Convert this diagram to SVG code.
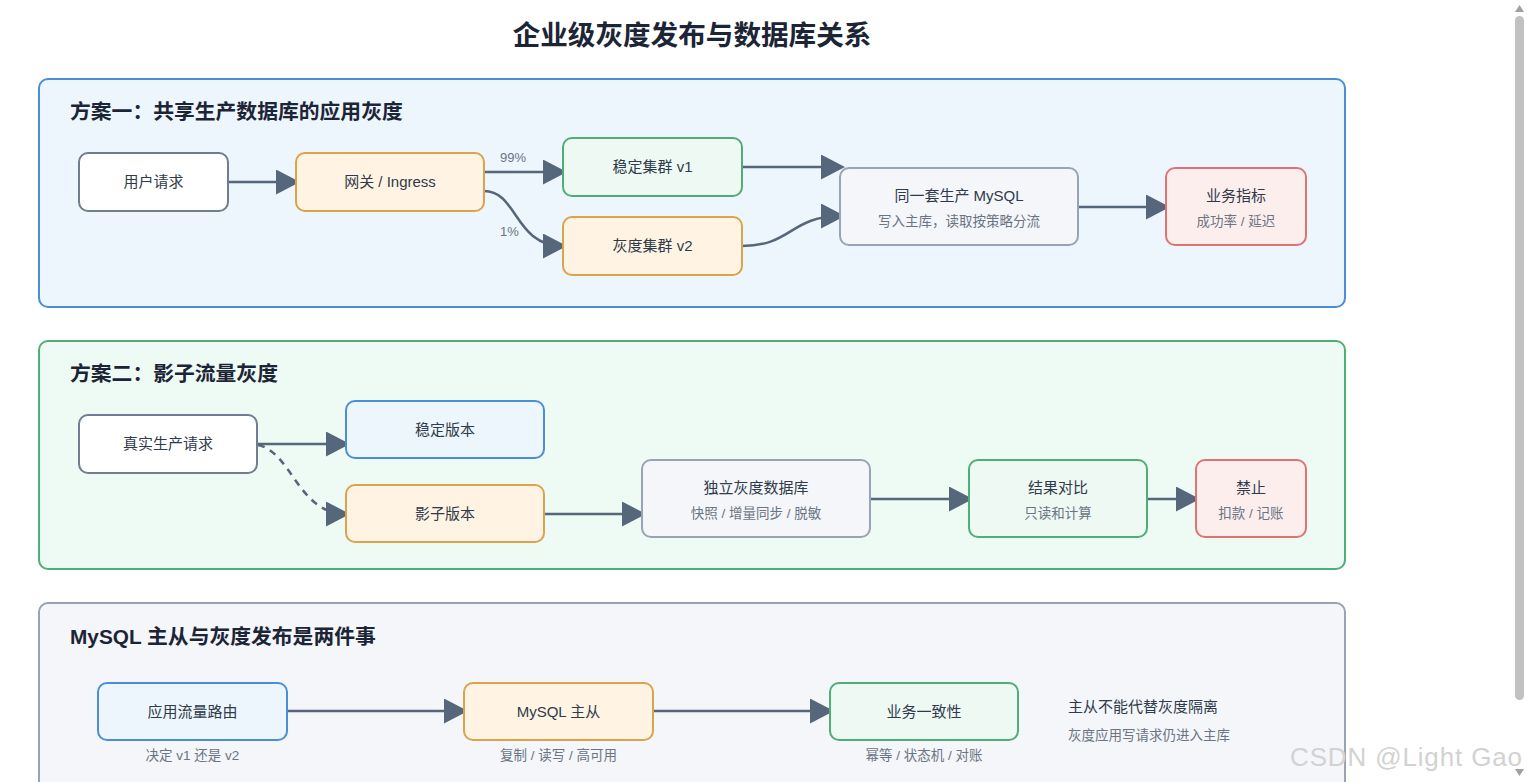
<svg xmlns="http://www.w3.org/2000/svg" width="1527" height="782" viewBox="0 0 1527 782">
<defs>
<marker id="arr" markerUnits="userSpaceOnUse" markerWidth="26" markerHeight="26" refX="20" refY="12.5" orient="auto">
<path d="M0,0 L24,12.5 L0,25 z" fill="#56667b"/>
</marker>
<style>
text{font-family:"Liberation Sans","Noto Sans CJK SC",sans-serif}
.title{font-size:27.6px;font-weight:bold;fill:#1c2536}
.ptitle{font-size:20.8px;font-weight:bold;fill:#1c2536}
.t{font-size:15px;fill:#2f3a4a;text-anchor:middle}
.s{font-size:13.5px;fill:#6b7483;text-anchor:middle}
.lbl{font-size:13px;fill:#6b7483}
.n{stroke-width:2}
.gray{fill:#ffffff;stroke:#6f7d8e}
.orange{fill:#fff4e3;stroke:#dca24c}
.green{fill:#eef9f3;stroke:#4fae78}
.blue{fill:#edf5fd;stroke:#4a8ed5}
.db{fill:#f4f6f9;stroke:#98a3b3}
.red{fill:#fdeeee;stroke:#df7373}
.c{fill:none;stroke:#56667b;stroke-width:2.5}
</style>
</defs>
<rect width="1527" height="782" fill="#ffffff"/>
<text class="title" x="692" y="45" text-anchor="middle">企业级灰度发布与数据库关系</text>

<g id="panel1">
<rect x="39" y="79" width="1306" height="228" rx="9" fill="#edf5fd" stroke="#4a8ed5" stroke-width="2"/>
<text class="ptitle" x="70" y="119">方案一：共享生产数据库的应用灰度</text>
</g>
<g id="panel2">
<rect x="39" y="341" width="1306" height="228" rx="9" fill="#eefaf4" stroke="#4fae78" stroke-width="2"/>
<text class="ptitle" x="70" y="381">方案二：影子流量灰度</text>
</g>
<g id="panel3">
<rect x="39" y="603" width="1306" height="210" rx="9" fill="#f4f6f9" stroke="#98a3b3" stroke-width="2"/>
<text class="ptitle" x="70" y="644">MySQL 主从与灰度发布是两件事</text>
</g>

<g id="connectors">
<path class="c" d="M228,182 L296,182" marker-end="url(#arr)"/>
<path class="c" d="M484,172 L563,172" marker-end="url(#arr)"/>
<path class="c" d="M484,191 C518,191 514,246 563,246" marker-end="url(#arr)"/>
<path class="c" d="M742,167 L841,167" marker-end="url(#arr)"/>
<path class="c" d="M742,246 C792,246 790,216 841,216" marker-end="url(#arr)"/>
<path class="c" d="M1078,207 L1166,207" marker-end="url(#arr)"/>
<text class="lbl" x="500" y="162">99%</text>
<text class="lbl" x="500" y="236">1%</text>

<path class="c" d="M257,444 L346,444" marker-end="url(#arr)"/>
<path class="c" d="M258,445 C292,452 298,514 346,514" stroke-dasharray="7,6" marker-end="url(#arr)"/>
<path class="c" d="M544,514 L642,514" marker-end="url(#arr)"/>
<path class="c" d="M870,499 L969,499" marker-end="url(#arr)"/>
<path class="c" d="M1147,499 L1196,499" marker-end="url(#arr)"/>

<path class="c" d="M287,711 L464,711" marker-end="url(#arr)"/>
<path class="c" d="M653,711 L830,711" marker-end="url(#arr)"/>
</g>

<g id="n-user"><rect class="n gray" x="79" y="153" width="149" height="58" rx="9"/><text class="t" x="153.5" y="187">用户请求</text></g>
<g id="n-gateway"><rect class="n orange" x="296" y="153" width="188" height="58" rx="9"/><text class="t" x="390" y="187">网关 / Ingress</text></g>
<g id="n-v1"><rect class="n green" x="563" y="138" width="179" height="58" rx="9"/><text class="t" x="652.5" y="172">稳定集群 v1</text></g>
<g id="n-v2"><rect class="n orange" x="563" y="217" width="179" height="58" rx="9"/><text class="t" x="652.5" y="251">灰度集群 v2</text></g>
<g id="n-mysql"><rect class="n db" x="840" y="168" width="238" height="77" rx="9"/><text class="t" x="959" y="201">同一套生产 MySQL</text><text class="s" x="959" y="226">写入主库，读取按策略分流</text></g>
<g id="n-metrics"><rect class="n red" x="1166" y="168" width="140" height="77" rx="9"/><text class="t" x="1236" y="201">业务指标</text><text class="s" x="1236" y="226">成功率 / 延迟</text></g>

<g id="n-real"><rect class="n gray" x="79" y="415" width="178" height="58" rx="9"/><text class="t" x="168" y="449">真实生产请求</text></g>
<g id="n-stable"><rect class="n blue" x="346" y="401" width="198" height="57" rx="9"/><text class="t" x="445" y="435">稳定版本</text></g>
<g id="n-shadow"><rect class="n orange" x="346" y="485" width="198" height="57" rx="9"/><text class="t" x="445" y="519">影子版本</text></g>
<g id="n-graydb"><rect class="n db" x="642" y="460" width="228" height="77" rx="9"/><text class="t" x="756" y="493">独立灰度数据库</text><text class="s" x="756" y="518">快照 / 增量同步 / 脱敏</text></g>
<g id="n-compare"><rect class="n green" x="969" y="460" width="178" height="77" rx="9"/><text class="t" x="1058" y="493">结果对比</text><text class="s" x="1058" y="518">只读和计算</text></g>
<g id="n-forbid"><rect class="n red" x="1196" y="460" width="110" height="77" rx="9"/><text class="t" x="1251" y="493">禁止</text><text class="s" x="1251" y="518">扣款 / 记账</text></g>

<g id="n-route"><rect class="n blue" x="98" y="683" width="189" height="57" rx="9"/><text class="t" x="192.5" y="717">应用流量路由</text><text class="s" x="192.5" y="760">决定 v1 还是 v2</text></g>
<g id="n-ms"><rect class="n orange" x="464" y="683" width="189" height="57" rx="9"/><text class="t" x="558.5" y="717">MySQL 主从</text><text class="s" x="558.5" y="760">复制 / 读写 / 高可用</text></g>
<g id="n-consist"><rect class="n green" x="830" y="683" width="188" height="57" rx="9"/><text class="t" x="924" y="717">业务一致性</text><text class="s" x="924" y="760">幂等 / 状态机 / 对账</text></g>
<g id="n-note"><text x="1068" y="712" style="font-size:15px;fill:#2f3a4a">主从不能代替灰度隔离</text><text x="1068" y="740" style="font-size:13.5px;fill:#6b7483">灰度应用写请求仍进入主库</text></g>

<text x="1290" y="766" style="font-size:26px;fill:#d2d2d2" textLength="232">CSDN @Light Gao</text>
<rect x="1515" y="16" width="9" height="684" rx="4.5" fill="#c1c1c1"/>
<path d="M1515,12 L1519.5,5 L1524,12 z" fill="#a0a0a0"/>
<path d="M1515,769 L1519.5,776 L1524,769 z" fill="#a0a0a0"/>
</svg>
